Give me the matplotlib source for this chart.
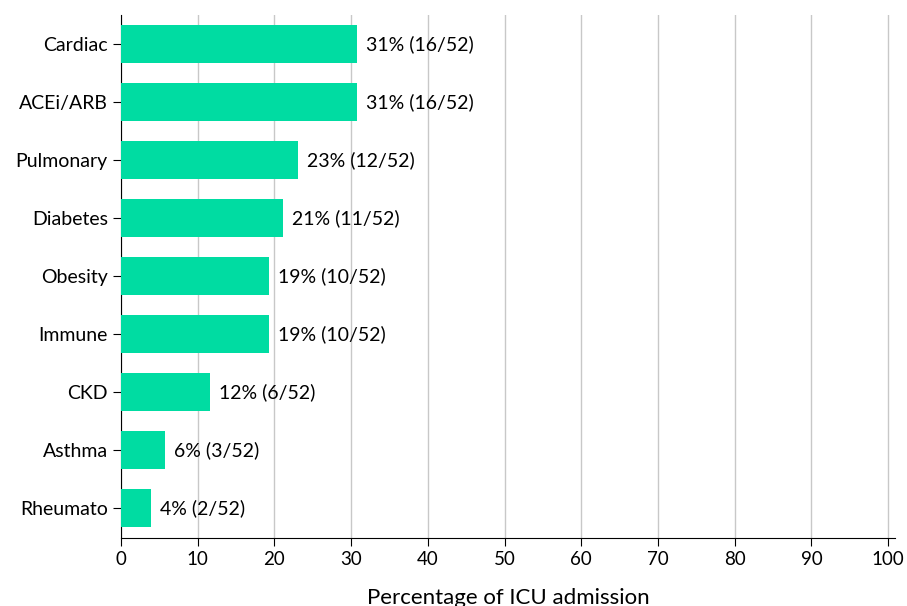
import matplotlib.pyplot as plt

categories = ["Cardiac", "ACEi/ARB", "Pulmonary", "Diabetes", "Obesity", "Immune", "CKD", "Asthma", "Rheumato"]
counts = [16, 16, 12, 11, 10, 10, 6, 3, 2]
total = 52

plt.rcParams['font.family'] = ['Lato', 'DejaVu Sans']

fig = plt.figure(figsize=(9.07, 6.06), dpi=100)
ax = fig.add_axes([121/907, 1-538/606, (895-121)/907, (538-15)/606])

pcts = [c / total * 100 for c in counts]
ypos = list(range(len(categories)))[::-1]
ax.barh(ypos, pcts, height=0.65, color='#00dca2', zorder=3)
for y, p, c in zip(ypos, pcts, counts):
    ax.text(p + 1.2, y, f"{round(p)}% ({c}/{total})", va='center', ha='left', fontsize=14)

ax.set_yticks(ypos)
ax.set_yticklabels(categories, fontsize=14)
ax.set_ylim(-0.52, 8.5)
ax.set_xlim(0, 100.9)
ax.set_xticks(range(0, 101, 10))
ax.tick_params(axis='x', labelsize=13.5, length=6)
ax.tick_params(axis='y', length=6)
ax.xaxis.grid(True, color='#c8c8c8', linewidth=1, zorder=0)
for s in ['top', 'right']:
    ax.spines[s].set_visible(False)
ax.set_xlabel("Percentage of ICU admission", fontsize=16, labelpad=14)

fig.savefig("out.png", dpi=100)
